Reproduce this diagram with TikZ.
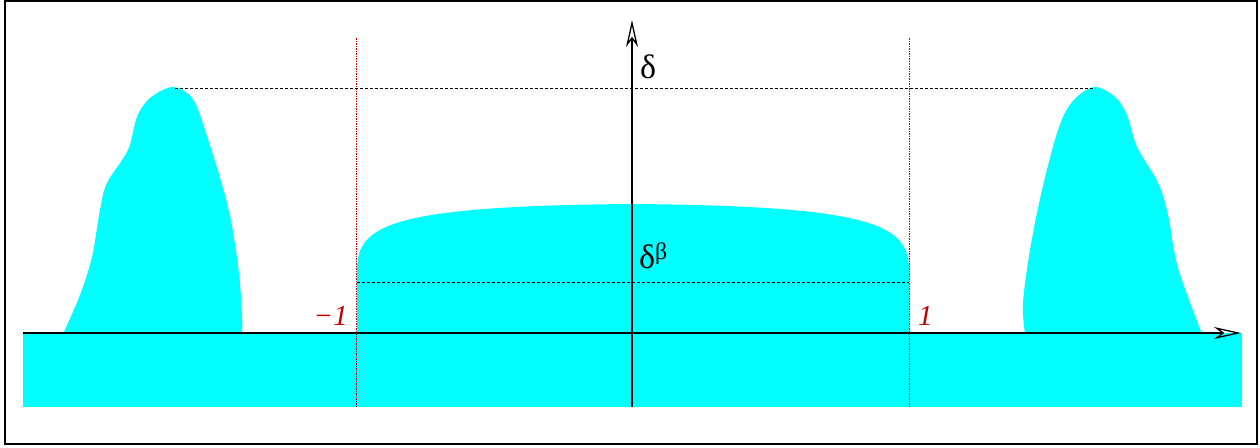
\documentclass[tikz,border=0pt]{standalone}
\usepackage{fontspec}
\setmainfont{Liberation Serif}
\usetikzlibrary{arrows.meta}
\definecolor{aqua}{RGB}{0,255,255}
\definecolor{darkred}{RGB}{190,0,0}
\begin{document}
\begin{tikzpicture}[x=1pt,y=-1pt,
  region/.style={fill=aqua,draw=none},
  axis/.style={line width=1.3pt,-{Stealth[open,length=27pt,width=12pt,inset=8pt]}},
  guide/.style={draw=darkred,line width=0.5pt,dash pattern=on 1.5pt off 1pt},
  level/.style={line width=0.8pt,dash pattern=on 2.5pt off 2.5pt},
  lbl/.style={inner sep=0pt,font=\fontsize{34}{36}\selectfont},
  redlbl/.style={inner sep=0pt,text=darkred,font=\fontsize{29}{32}\selectfont\itshape}]
\useasboundingbox (0,0) rectangle (1260,447);
\draw[line width=1.3pt] (5,1) rectangle (1257,444);
% filled regions
\fill[region] (23,333) rectangle (1242,407);
\fill[region] (357,334) -- (357,270) .. controls (357,225) and (390,206) .. (632,204)
  .. controls (874,206) and (909,225) .. (909,270) -- (909,334) -- cycle;
\fill[region] plot[smooth,tension=0.55] coordinates {(63,334) (80,295) (92,257) (100,210) (107,183) (128,150) (137,117) (150,98) (173,87) (192,98) (204,127) (227,203) (238,265) (242,315) (242,334)} -- cycle;
\fill[region] plot[smooth,tension=0.55] coordinates {(1025,334) (1023,303) (1030,250) (1042,190) (1058,130) (1072,102) (1094,87) (1115,97) (1127,115) (1137,147) (1158,183) (1168,215) (1178,268) (1202,334)} -- cycle;
% coordinates
\coordinate (xs) at (23,333);
\coordinate (xe) at (1241,333);
\coordinate (ys) at (632,407);
\coordinate (ye) at (632,20);
\coordinate (lt) at (356,38);
\coordinate (lb) at (356,407);
\coordinate (rt) at (909,38);
\coordinate (rb) at (909,407);
\coordinate (pl) at (175,88);
\coordinate (pr) at (1095,88);
\coordinate (ml) at (357,282);
\coordinate (mr) at (909,282);
% guides
\draw[guide] (lt) -- (lb);
\draw[guide] (rt) -- (rb);
\draw[level] (pl) -- (pr);
\draw[level] (ml) -- (mr);
% axes
\draw[axis] (xs) -- (xe);
\draw[axis] (ys) -- (ye);
% labels
\node[lbl,anchor=west] (delta) at (640,67) {δ};
\node[lbl,anchor=west] (deltab) at (639,256) {δ\textsuperscript{β}};
\node[redlbl,anchor=east] (m1) at (348,316) {−1};
\node[redlbl,anchor=west] (p1) at (918,316) {1};
\end{tikzpicture}
\end{document}
